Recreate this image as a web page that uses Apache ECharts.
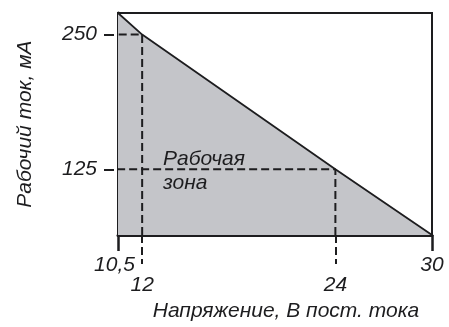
<!DOCTYPE html>
<html>
<head>
<meta charset="utf-8">
<script src="https://cdn.jsdelivr.net/npm/echarts@6/dist/echarts.min.js"></script>
<style>
  html, body { margin: 0; padding: 0; background: #fff; }
  #chart { width: 449px; height: 327px; }
</style>
</head>
<body>
<div id="chart"></div>
<script>
// Operating area: supply voltage (V DC) vs. operating current (mA)
const voltageRange = [10.5, 30];          // x-axis limits, V
const currentRange = [64, 270];           // y-axis limits, mA
const boundaryVoltage = [10.5, 12, 24, 30];
const boundaryCurrent = [270, 250, 125, 64];
const edgeTicks = [10.5, 30];             // solid ticks at the frame corners
const markedVoltages = [12, 24];          // dashed reference voltages
const markedCurrents = [250, 125];        // current at each reference voltage
const currentTicks = [125, 250];

const FONT = '"Liberation Sans", Arial, sans-serif';
const INK = '#1d1d1f';
const FILL = '#c4c5c9';
const DASH = [8, 4];
const SIZE = 21;

const textStyle = { color: INK, fontFamily: FONT, fontStyle: 'italic', fontSize: SIZE };

const boundary = boundaryVoltage.map((v, i) => [v, boundaryCurrent[i]]);

// Dashed guide lines: up from the axis to the boundary, then left to the current axis
const guides = markedVoltages.map((v, i) => ({
  type: 'line',
  data: [[v, currentRange[0]], [v, markedCurrents[i]], [voltageRange[0], markedCurrents[i]]],
  showSymbol: false,
  silent: true,
  z: 4,
  lineStyle: { color: INK, width: 2, type: DASH }
}));

const fmt = v => String(v).replace('.', ',');

const option = {
  animation: false,
  grid: {
    left: 118, right: 17, top: 13, bottom: 90,
    show: true, borderColor: INK, borderWidth: 2, backgroundColor: 'transparent'
  },
  xAxis: [
    {
      type: 'value', min: voltageRange[0], max: voltageRange[1],
      axisLine: { show: true, lineStyle: { color: INK, width: 3 } },
      axisTick: { show: true, customValues: edgeTicks, length: 16, lineStyle: { color: INK, width: 2.5 } },
      axisLabel: Object.assign({
        customValues: edgeTicks, margin: 20,
        formatter: v => v === voltageRange[0] ? '{l|' + fmt(v) + '}' : fmt(v),
        rich: { l: Object.assign({ padding: [0, 7, 0, 0] }, textStyle) }
      }, textStyle),
      splitLine: { show: false }
    },
    {
      type: 'value', min: voltageRange[0], max: voltageRange[1], position: 'bottom',
      axisLine: { show: false },
      axisTick: { show: true, customValues: markedVoltages, length: 29, lineStyle: { color: INK, width: 2, type: DASH } },
      axisLabel: Object.assign({ customValues: markedVoltages, formatter: fmt, margin: 40 }, textStyle),
      splitLine: { show: false },
      name: 'Напряжение, В пост. тока',
      nameLocation: 'middle', nameGap: 60,
      nameTextStyle: Object.assign({ padding: [0, 0, 0, 22] }, textStyle)
    }
  ],
  yAxis: {
    type: 'value', min: currentRange[0], max: currentRange[1],
    axisLine: { show: true, lineStyle: { color: INK, width: 3 } },
    axisTick: {
      show: true, customValues: currentTicks, length: 15,
      lineStyle: { color: INK, width: 2, type: [10, 30], dashOffset: -4 }
    },
    axisLabel: Object.assign({ customValues: currentTicks, margin: 21 }, textStyle),
    splitLine: { show: false },
    name: 'Рабочий ток, мА',
    nameLocation: 'middle', nameGap: 82,
    nameTextStyle: textStyle
  },
  series: [
    {
      type: 'line',
      data: boundary,
      showSymbol: false,
      silent: true,
      z: 2,
      lineStyle: { color: INK, width: 1.8 },
      areaStyle: { color: FILL, opacity: 1 }
    },
    ...guides
  ],
  graphic: [
    {
      type: 'text', left: 163, top: 147, z: 10,
      style: {
        text: 'Рабочая\nзона', fill: INK, font: 'italic ' + SIZE + 'px ' + FONT, lineHeight: 24
      }
    }
  ]
};

echarts.init(document.getElementById('chart')).setOption(option);
</script>
</body>
</html>
